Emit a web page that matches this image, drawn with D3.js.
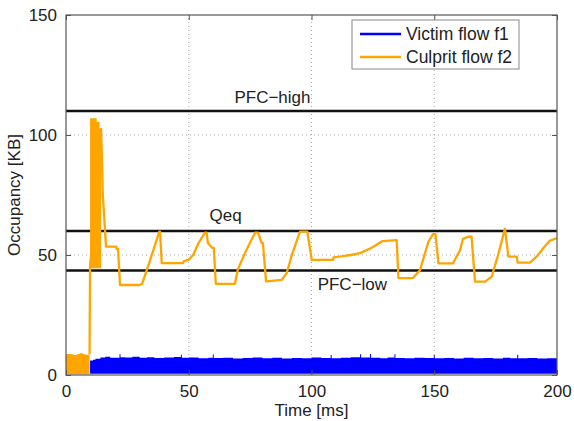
<!DOCTYPE html>
<html>
<head>
<meta charset="utf-8">
<script src="https://d3js.org/d3.v7.min.js"></script>
<style>
    body { margin: 0; background: #fff; }
    text { font-family: "Liberation Sans", Arial, sans-serif; fill: #222; }
</style>
</head>
<body>
<svg id="chart"></svg>
<script>
    // ---------------- data ----------------
    const xTicks = [0, 50, 100, 150, 200];
    const yTicks = [0, 50, 100, 150];

    // threshold lines (KB)
    const levelNames = ["PFC\u2212high", "Qeq", "PFC\u2212low"];
    const levelValues = [110, 60, 43.5];

    // culprit flow f2: rapid oscillation at start (drawn as band 0..hi)
    const earlyT = [0, 2, 3, 4.5, 5.5, 7, 8, 9.6];
    const earlyHi = [8.7, 8.6, 8.3, 8.7, 9.1, 8.6, 8.4, 8.7];

    // burst between ~10 and 14 ms (band lo..hi)
    const burstT = [9.8, 12.4, 12.5, 13.6, 13.7, 14.3];
    const burstHi = [107, 107, 105.5, 105.5, 102.5, 102.5];
    const burstLo = [44.5, 44.5, 44.5, 44.5, 44.5, 44.5];

    // culprit flow f2 afterwards
    const culpritT = [9.6, 9.8, 14.3, 15, 16.3, 20.5, 20.6, 21.2, 22, 30, 31, 34, 38, 38.3, 39, 47.7, 48, 50,
        51.8, 54, 56.6, 57.3, 57.8, 59.5, 60.2, 61, 68.8, 70, 73, 77, 78.2, 79.7, 80.2, 81.5, 87.9, 89.9,
        92, 95.3, 98.3, 100.1, 108.8, 109, 112.8, 116, 119.8, 124.5, 129, 134.7, 135.4, 141.3, 144.2, 146,
        147.6, 149.5, 150.5, 151.7, 157.6, 160.5, 161.7, 163.7, 165.2, 166.6, 170.7, 173.4, 176, 178.8,
        180.2, 183.6, 184, 189, 191.7, 194.4, 197.1, 200];
    const culpritKB = [8.5, 45, 102.5, 75, 53.5, 53.5, 52.5, 52.5, 37.5, 37.5, 38, 47, 59.7, 59.7, 46.6, 46.6, 47.5, 48,
        50, 55, 59.3, 59.3, 55, 53, 53, 38, 38, 44, 51, 59.3, 59.3, 55, 55, 39, 39.6, 42.5,
        50, 59.7, 59.7, 48, 48, 49, 49.5, 50, 50.8, 53, 55.8, 56.2, 40.4, 40.4, 43.7, 50,
        55.5, 58.7, 58.7, 46.5, 46.5, 52, 56.7, 57.6, 57.6, 38.9, 38.9, 41, 50, 61,
        49.3, 49.3, 46.8, 46.8, 49.3, 52.8, 56, 57];

    // victim flow f1: fast oscillation 0..hi, upper envelope
    const victimT = [9.8, 11, 12, 14, 16, 18, 21.8, 22.2, 24, 27, 30, 33, 36, 40, 44, 46.8, 47.2, 50, 54, 58,
        59.8, 60.2, 64, 68, 72, 76, 80, 84, 88, 92, 96, 100, 104, 107.8, 108.2, 112, 116, 119.8, 120.2,
        123.8, 124.2, 128, 131, 133.8, 134.2, 138, 142, 146, 149.8, 150.2, 154, 158, 162, 166, 170, 174,
        178, 181, 183.8, 184.2, 188, 192, 196, 200];
    const victimHi = [6, 6.4, 6.8, 7.3, 7.6, 7.2, 8.6, 7.4, 7.3, 7.6, 7.2, 7.4, 7.1, 7.3, 7.5, 8.4, 7.2, 7.3, 7.0, 7.2,
        8.5, 7.1, 7.2, 6.9, 7.1, 7.3, 7.0, 7.2, 6.9, 7.1, 7.0, 7.3, 7.1, 8.3, 7.0, 7.2, 7.4, 8.6, 7.3,
        8.7, 7.2, 7.0, 7.3, 8.6, 7.1, 7.0, 7.2, 7.1, 8.3, 7.0, 7.1, 6.9, 7.2, 7.0, 7.1, 6.9,
        7.2, 7.0, 8.4, 7.0, 7.1, 6.9, 7.0, 7.0];

    const seriesNames = ["Victim flow f1", "Culprit flow f2"];
    const seriesColors = ["#0000ff", "#ffa500"];

    // ---------------- layout ----------------
    const width = 574, height = 421;
    const margin = { top: 15, right: 17, bottom: 46, left: 66 };

    const svg = d3.select("#chart").attr("width", width).attr("height", height);

    const x = d3.scaleLinear().domain([0, 200]).range([margin.left, width - margin.right]);
    const y = d3.scaleLinear().domain([0, 150]).range([height - margin.bottom, margin.top]);

    // grid (dotted)
    svg.append("g").selectAll("line").data(xTicks.slice(1, -1)).join("line")
        .attr("x1", d => x(d)).attr("x2", d => x(d))
        .attr("y1", y(0)).attr("y2", y(150))
        .attr("stroke", "#aaa").attr("stroke-width", 1).attr("stroke-dasharray", "1,3");
    svg.append("g").selectAll("line").data(yTicks.slice(1, -1)).join("line")
        .attr("y1", d => y(d)).attr("y2", d => y(d))
        .attr("x1", x(0)).attr("x2", x(200))
        .attr("stroke", "#aaa").attr("stroke-width", 1).attr("stroke-dasharray", "1,3");

    // victim flow band
    const victim = victimT.map((t, i) => ({ t: t, hi: victimHi[i] }));
    svg.append("path").datum(victim)
        .attr("fill", seriesColors[0])
        .attr("d", d3.area().curve(d3.curveStepAfter)
            .x(d => x(d.t)).y0(y(0.5)).y1(d => y(d.hi)));

    // threshold lines
    svg.append("g").selectAll("line").data(levelValues).join("line")
        .attr("x1", x(0)).attr("x2", x(200))
        .attr("y1", d => y(d)).attr("y2", d => y(d))
        .attr("stroke", "#111").attr("stroke-width", 2.5);

    // culprit flow
    const early = earlyT.map((t, i) => ({ t: t, hi: earlyHi[i] }));
    svg.append("path").datum(early)
        .attr("fill", seriesColors[1])
        .attr("d", d3.area().curve(d3.curveStepAfter)
            .x(d => x(d.t)).y0(y(0.3)).y1(d => y(d.hi)));

    const burst = burstT.map((t, i) => ({ t: t, hi: burstHi[i], lo: burstLo[i] }));
    svg.append("path").datum(burst)
        .attr("fill", seriesColors[1])
        .attr("d", d3.area().curve(d3.curveStepAfter)
            .x(d => x(d.t)).y0(d => y(d.lo)).y1(d => y(d.hi)));

    const culprit = culpritT.map((t, i) => ({ t: t, v: culpritKB[i] }));
    svg.append("path").datum(culprit)
        .attr("fill", "none")
        .attr("stroke", seriesColors[1])
        .attr("stroke-width", 2.3)
        .attr("stroke-linejoin", "round")
        .attr("d", d3.line().x(d => x(d.t)).y(d => y(d.v)));

    // threshold labels
    const labelPos = [
        { x: 100, y: 110, dx: -1, dy: -8, anchor: "end" },
        { x: 65, y: 60, dx: 0, dy: -10, anchor: "middle" },
        { x: 102.5, y: 43.5, dx: 0, dy: 19, anchor: "start" }
    ];
    svg.append("g").selectAll("text").data(levelNames).join("text")
        .attr("x", (d, i) => x(labelPos[i].x) + labelPos[i].dx)
        .attr("y", (d, i) => y(levelValues[i]) + labelPos[i].dy)
        .attr("text-anchor", (d, i) => labelPos[i].anchor)
        .style("font-size", "17px")
        .text(d => d);

    // box
    svg.append("rect")
        .attr("x", x(0)).attr("y", y(150))
        .attr("width", x(200) - x(0)).attr("height", y(0) - y(150))
        .attr("fill", "none").attr("stroke", "#555").attr("stroke-width", 1.2);

    // axes with inward ticks (MATLAB style)
    const xAxis = svg.append("g").attr("transform", "translate(0," + y(0) + ")")
        .call(d3.axisBottom(x).tickValues(xTicks).tickSizeInner(-5).tickSizeOuter(0).tickPadding(10));
    const xAxisTop = svg.append("g").attr("transform", "translate(0," + y(150) + ")")
        .call(d3.axisTop(x).tickValues(xTicks).tickSizeInner(-5).tickSizeOuter(0).tickFormat(""));
    const yAxis = svg.append("g").attr("transform", "translate(" + x(0) + ",0)")
        .call(d3.axisLeft(y).tickValues(yTicks).tickSizeInner(-5).tickSizeOuter(0).tickPadding(9));
    const yAxisRight = svg.append("g").attr("transform", "translate(" + x(200) + ",0)")
        .call(d3.axisRight(y).tickValues(yTicks).tickSizeInner(-5).tickSizeOuter(0).tickFormat(""));

    [xAxis, xAxisTop, yAxis, yAxisRight].forEach(a => {
        a.select(".domain").remove();
        a.selectAll(".tick line").attr("stroke", "#555");
        a.selectAll("text").style("font-size", "17px")
            .style("font-family", '"Liberation Sans", Arial, sans-serif').attr("fill", "#222");
    });

    // axis titles
    svg.append("text")
        .attr("x", (x(0) + x(200)) / 2).attr("y", 416)
        .attr("text-anchor", "middle").style("font-size", "17px")
        .text("Time [ms]");
    svg.append("text")
        .attr("transform", "translate(20," + (y(0) + y(150)) / 2 + ") rotate(-90)")
        .attr("text-anchor", "middle").style("font-size", "17px")
        .text("Occupancy [KB]");

    // legend
    const legend = svg.append("g").attr("transform", "translate(352,20)");
    legend.append("rect")
        .attr("width", 167).attr("height", 49)
        .attr("fill", "#fff").attr("stroke", "#888").attr("stroke-width", 1);
    seriesNames.forEach((name, i) => {
        legend.append("line")
            .attr("x1", 8).attr("x2", 49)
            .attr("y1", 14 + i * 23).attr("y2", 14 + i * 23)
            .attr("stroke", seriesColors[i]).attr("stroke-width", 2.5);
        legend.append("text")
            .attr("x", 54).attr("y", 20 + i * 23)
            .style("font-size", "17.5px")
            .text(name);
    });
</script>
</body>
</html>
